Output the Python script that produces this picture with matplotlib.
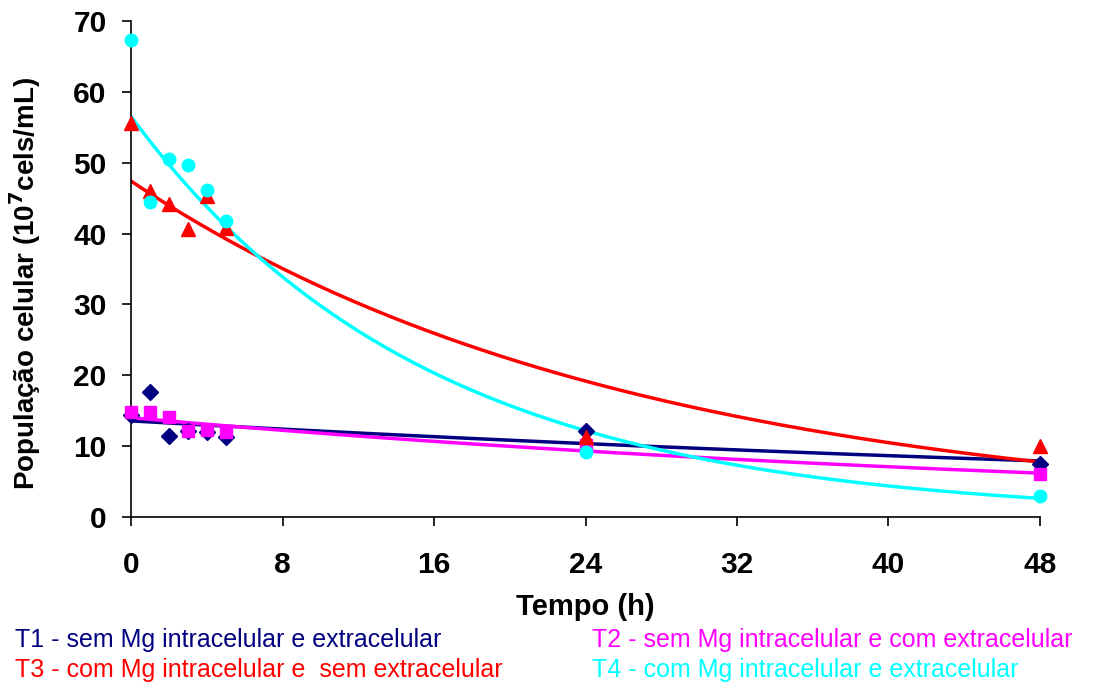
import numpy as np
import matplotlib
matplotlib.use("Agg")
from matplotlib import pyplot as plt

plt.rcParams['font.family'] = ['Liberation Sans', 'DejaVu Sans']

tempo = [0, 1, 2, 3, 4, 5, 24, 48]
t1 = [14.4, 17.6, 11.4, 12.1, 12.0, 11.3, 12.1, 7.5]
t2 = [14.8, 14.8, 14.1, 12.1, 12.3, 12.0, 10.2, 6.0]
t3 = [55.6, 46.0, 44.2, 40.6, 45.3, 40.8, 11.3, 10.0]
t4 = [67.3, 44.5, 50.5, 49.7, 46.1, 41.8, 9.2, 3.0]

cores = ['#000080', '#FF00FF', '#FF0000', '#00FFFF']
marcadores = ['D', 's', '^', 'o']
tamanhos = [8, 8, 10, 9]
legendas = ['T1 - sem Mg intracelular e extracelular',
            'T2 - sem Mg intracelular e com extracelular',
            'T3 - com Mg intracelular e  sem extracelular',
            'T4 - com Mg intracelular e extracelular']

fig = plt.figure(figsize=(10.93, 6.86), dpi=100)
ax = fig.add_axes([0.1199, 0.2464, 0.8316, 0.723])

x = np.array(tempo, dtype=float)
xs = np.linspace(0, 48, 200)
series = [t1, t2, t3, t4]
# linhas de tendencia exponencial (como no Excel)
for y, c in zip(series, cores):
    b, a = np.polyfit(x, np.log(y), 1)
    ax.plot(xs, np.exp(a) * np.exp(b * xs), color=c, lw=2.5, zorder=2)
for y, c, m, s in zip(series, cores, marcadores, tamanhos):
    ax.plot(x, y, linestyle='none', marker=m, color=c, markersize=s, zorder=3,
            clip_on=False)

ax.set_xlim(0, 48)
ax.set_ylim(0, 70)
ax.set_xticks(range(0, 49, 8))
ax.set_yticks(range(0, 71, 10))
for lado in ['top', 'right']:
    ax.spines[lado].set_visible(False)
ax.spines['left'].set_linewidth(1.2)
ax.spines['bottom'].set_linewidth(1.2)
ax.tick_params(direction='out', length=6.5, width=1.2, labelsize=21.5)
ax.tick_params(axis='x', pad=18)
ax.tick_params(axis='y', pad=11)
for lab in ax.get_xticklabels() + ax.get_yticklabels():
    lab.set_fontweight('bold')
ax.set_xlabel('Tempo (h)', fontsize=21, fontweight='bold', labelpad=10)
ax.set_ylabel('População celular (10$^\\mathbf{7}$cels/mL)', fontsize=20,
              fontweight='bold')
ax.yaxis.set_label_coords(-0.097, 0.47)

fig.text(0.014, 0.067, legendas[0], color=cores[0], fontsize=18, va='center')
fig.text(0.542, 0.067, legendas[1], color=cores[1], fontsize=18, va='center')
fig.text(0.014, 0.023, legendas[2], color=cores[2], fontsize=18, va='center')
fig.text(0.542, 0.023, legendas[3], color=cores[3], fontsize=18, va='center')

fig.savefig('out.png', dpi=100)
